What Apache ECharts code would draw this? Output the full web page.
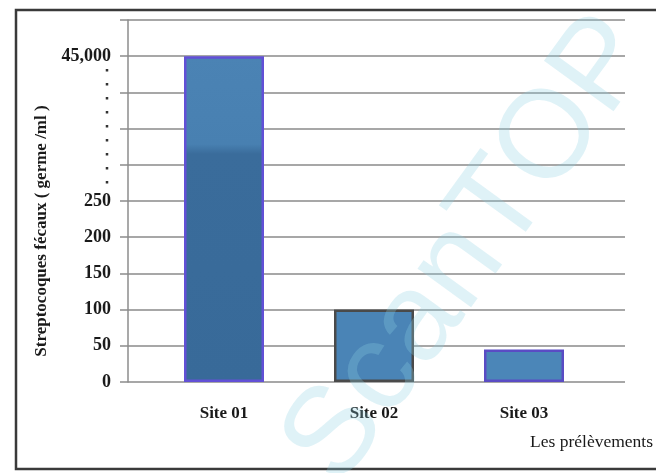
<!DOCTYPE html>
<html>
<head>
<meta charset="utf-8">
<script src="https://cdn.jsdelivr.net/npm/echarts@6/dist/echarts.min.js"></script>
<style>
  html, body { margin: 0; padding: 0; background: #fff; }
  #chart { width: 656px; height: 473px; }
</style>
</head>
<body>
<div id="chart"></div>
<script>
// Sampling sites and faecal streptococci counts (germs / ml)
const categories = ['Site 01', 'Site 02', 'Site 03'];
const counts = [45000, 100, 45];

// Ticks shown below the break and the single tick above it
const lowTicks = [0, 50, 100, 150, 200, 250];
const highTick = 45000;
const highTickLabel = '45,000';

// Broken scale: values up to 250 are linear, the high value sits at 450 on the drawn scale
const breakLow = 250;
const highSlot = 450;
function toScale(v) {
  return v <= breakLow ? v : highSlot + (v - highTick) / 1000;
}

// Tall bar: lighter upper part, darker lower part
const tallFill = {
  type: 'linear', x: 0, y: 0, x2: 0, y2: 1,
  colorStops: [
    { offset: 0, color: '#4b83b4' },
    { offset: 0.27, color: '#4880b1' },
    { offset: 0.3, color: '#3a6c9b' },
    { offset: 1, color: '#386a99' }
  ]
};
const barFills = [tallFill, '#4a84b6', '#4b86b8'];
const barEdges = ['#6250d6', '#4a4a4a', '#5a4cc4'];

const serif = '"Liberation Serif", "DejaVu Serif", serif';

const chart = echarts.init(document.getElementById('chart'), null, { renderer: 'canvas' });

chart.setOption({
  animation: false,
  backgroundColor: '#ffffff',
  grid: [
    { left: 128, right: 31, top: 20, bottom: 91 },
    { left: 149, right: 57, top: 20, bottom: 91 }
  ],
  xAxis: [
    { gridIndex: 0, type: 'category', data: categories, show: false },
    {
      gridIndex: 1, type: 'category', data: categories,
      axisLine: { show: false }, axisTick: { show: false },
      axisLabel: {
        margin: 23, color: '#1a1a1a',
        fontFamily: serif, fontWeight: 'bold', fontSize: 17
      }
    }
  ],
  yAxis: [
    {
      gridIndex: 0, type: 'value', min: 0, max: 500, interval: 50,
      axisLine: { show: true, lineStyle: { color: '#8c8c8c', width: 1.5 } },
      axisTick: { show: true, length: 8, lineStyle: { color: '#8c8c8c', width: 1.5 } },
      axisLabel: {
        margin: 17, color: '#1a1a1a',
        fontFamily: serif, fontWeight: 'bold', fontSize: 18,
        formatter: function (v) {
          if (lowTicks.indexOf(v) >= 0) return String(v);
          if (v === toScale(highTick)) return highTickLabel;
          return '';
        }
      },
      splitLine: { show: true, lineStyle: { color: '#8a8a8a', width: 1.5 } }
    },
    { gridIndex: 1, type: 'value', min: 0, max: 500, interval: 50, show: false }
  ],
  series: [{
    type: 'bar',
    xAxisIndex: 1, yAxisIndex: 1,
    barWidth: 80,
    data: counts.map(function (v, i) {
      return {
        value: toScale(v),
        itemStyle: { color: barFills[i], borderColor: barEdges[i], borderWidth: 2.5 }
      };
    })
  }],
  graphic: [
    // outer frame
    {
      type: 'polyline', silent: true,
      shape: { points: [[660, 10], [16, 10], [16, 469], [660, 469]] },
      style: { stroke: '#3a3a3a', lineWidth: 2.5, fill: null }
    },
    // dotted run marking the scale break
    {
      type: 'line', silent: true,
      shape: { x1: 107, y1: 69, x2: 107, y2: 186 },
      style: { stroke: '#333', lineWidth: 2.5, lineDash: [2.5, 11.5] }
    },
    // y-axis title
    {
      type: 'text', silent: true, x: 42, y: 231, rotation: Math.PI / 2,
      style: {
        text: 'Streptocoques fécaux ( germe /ml )', fill: '#1a1a1a',
        font: 'bold 17px ' + serif, align: 'center', verticalAlign: 'middle'
      }
    },
    // x-axis title
    {
      type: 'text', silent: true, x: 653, y: 442,
      style: {
        text: 'Les prélèvements', fill: '#1a1a1a',
        font: '17.5px ' + serif, align: 'right', verticalAlign: 'middle'
      }
    },
    // scanner watermark
    {
      type: 'text', silent: true, z: 100, x: 470, y: 250, rotation: Math.PI * 0.3,
      style: {
        text: 'ScanTOP', fill: 'rgba(140, 210, 225, 0.28)',
        font: '125px "Liberation Sans", sans-serif', align: 'center', verticalAlign: 'middle'
      }
    }
  ]
});
</script>
</body>
</html>
